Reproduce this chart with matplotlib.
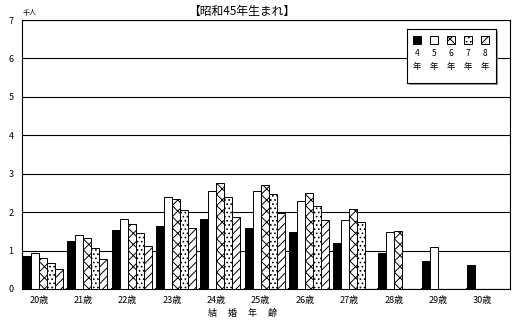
import matplotlib
matplotlib.use("Agg")
import matplotlib.pyplot as plt
from matplotlib.patches import Rectangle
import numpy as np

plt.rcParams['font.family'] = ['Noto Sans CJK JP', 'DejaVu Sans']
plt.rcParams['hatch.linewidth'] = 0.7

ages = ["20歳", "21歳", "22歳", "23歳", "24歳", "25歳", "26歳", "27歳", "28歳", "29歳", "30歳"]
series_names = ["4\n年", "5\n年", "6\n年", "7\n年", "8\n年"]
y4 = [0.86, 1.25, 1.53, 1.64, 1.82, 1.58, 1.49, 1.20, 0.94, 0.74, 0.63]
y5 = [0.94, 1.40, 1.82, 2.39, 2.55, 2.56, 2.29, 1.79, 1.49, 1.09, np.nan]
y6 = [0.80, 1.32, 1.69, 2.34, 2.76, 2.70, 2.51, 2.08, 1.51, np.nan, np.nan]
y7 = [0.67, 1.06, 1.45, 2.05, 2.39, 2.48, 2.17, 1.74, np.nan, np.nan, np.nan]
y8 = [0.52, 0.78, 1.11, 1.58, 1.87, 1.97, 1.79, np.nan, np.nan, np.nan, np.nan]
series = [y4, y5, y6, y7, y8]

styles = [
    dict(facecolor="black", hatch=None),
    dict(facecolor="white", hatch=None),
    dict(facecolor="white", hatch="xxx"),
    dict(facecolor="white", hatch="...."),
    dict(facecolor="white", hatch="////"),
]

fig = plt.figure(figsize=(5.18, 3.24), dpi=100)
ax = fig.add_axes([22 / 518, 35 / 324, 488 / 518, 269 / 324])

bw = 0.18
x = np.arange(len(ages))
for i, (vals, st) in enumerate(zip(series, styles)):
    ax.bar(x + 0.02 + bw * i, vals, width=bw, align="edge",
           edgecolor="black", linewidth=0.7, **st, zorder=3)

ax.set_xlim(0, len(ages))
ax.set_ylim(0, 7)
ax.set_yticks(range(0, 8))
ax.set_yticklabels([str(v) for v in range(0, 8)], fontsize=6.5)
ax.set_xticks(x + 0.38)
ax.set_xticklabels(ages, fontsize=6.5)
ax.tick_params(axis="both", length=0, pad=6)
ax.tick_params(axis="x", pad=5)
ax.grid(axis="y", color="black", linewidth=0.8, zorder=0)
for s in ax.spines.values():
    s.set_color("black")
    s.set_linewidth(0.8)
# small category boundary marks along the base line
for b in range(1, len(ages)):
    ax.plot([b, b], [0, 0.03], color="black", linewidth=0.8, zorder=4, clip_on=False)

fig.text(242 / 518, 1 - 11 / 324, "【昭和45年生まれ】", ha="center", va="center", fontsize=8.5)
fig.text(30 / 518, 1 - 13 / 324, "千人", ha="center", va="center", fontsize=5)
fig.text(242 / 518, 1 - 313 / 324, "結　 婚　 年　 齢", ha="center", va="center", fontsize=6.5)

# legend box with drop shadow
lx, ly, lw, lh = 407, 29, 89, 54
shadow = fig.add_axes([(lx + 2) / 518, 1 - (ly + lh + 2) / 324, lw / 518, lh / 324])
shadow.set_facecolor("#999999")
shadow.set_xticks([]); shadow.set_yticks([])
for s in shadow.spines.values():
    s.set_visible(False)
lg = fig.add_axes([lx / 518, 1 - (ly + lh) / 324, lw / 518, lh / 324])
lg.set_xlim(0, lw); lg.set_ylim(lh, 0)
lg.set_xticks([]); lg.set_yticks([])
for s in lg.spines.values():
    s.set_linewidth(0.8)
for i, (name, st) in enumerate(zip(series_names, styles)):
    cx = 10 + i * 17
    lg.add_patch(Rectangle((cx - 4, 7), 8, 8, edgecolor="black", linewidth=0.7, **st))
    d, n = name.split("\n")
    lg.text(cx, 24, d, ha="center", va="center", fontsize=6)
    lg.text(cx, 37, n, ha="center", va="center", fontsize=6)

fig.savefig("out.png", dpi=100)
